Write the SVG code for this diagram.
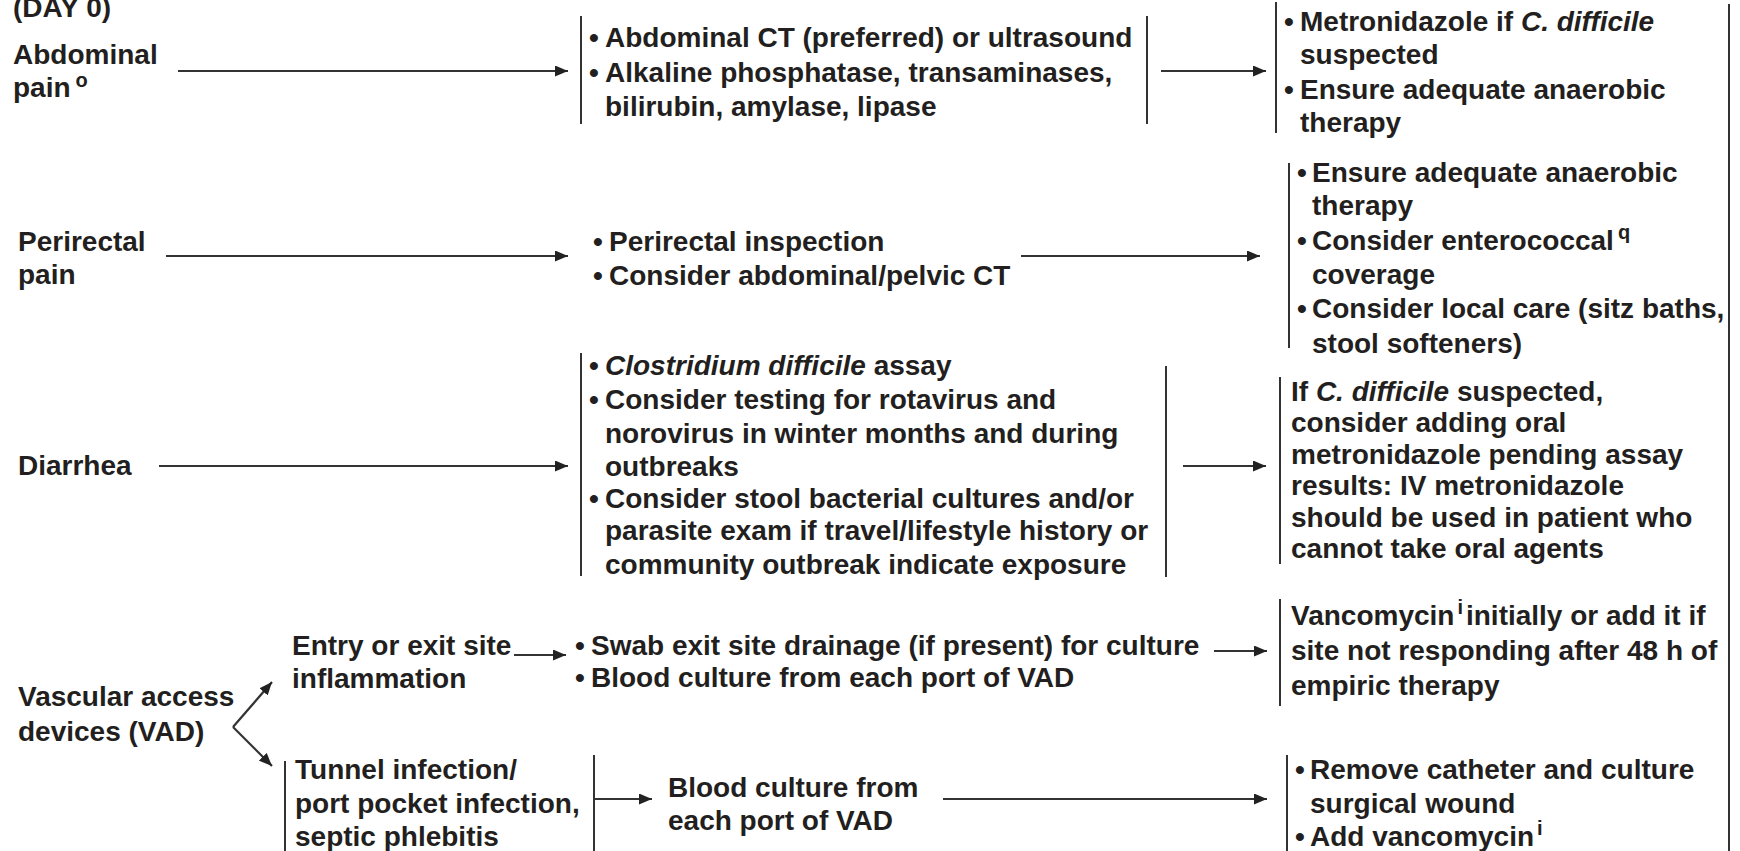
<svg xmlns="http://www.w3.org/2000/svg" width="1740" height="851" viewBox="0 0 1740 851">
<style>
text{font-family:"Liberation Sans",Arial,Helvetica,sans-serif;font-weight:bold;font-size:28px;fill:#231f20}
.i{font-style:italic}
.sup{font-size:20px}
.bar{stroke:#333;stroke-width:2;fill:none}
.con{stroke:#333;stroke-width:2.2;fill:none}
</style>
<defs>
<marker id="ah" viewBox="0 0 13 11" refX="13" refY="5.5" markerWidth="13" markerHeight="11" markerUnits="userSpaceOnUse" orient="auto">
<path d="M0,0 L13,5.5 L0,11 Z" fill="#222"/>
</marker>
</defs>
<rect width="1740" height="851" fill="#fff"/>

<g id="connectors">
<line class="con" x1="178" y1="71" x2="568" y2="71" marker-end="url(#ah)"/>
<line class="con" x1="1161" y1="71" x2="1266" y2="71" marker-end="url(#ah)"/>
<line class="con" x1="166" y1="256" x2="568" y2="256" marker-end="url(#ah)"/>
<line class="con" x1="1021" y1="256" x2="1260" y2="256" marker-end="url(#ah)"/>
<line class="con" x1="159" y1="466" x2="568" y2="466" marker-end="url(#ah)"/>
<line class="con" x1="1183" y1="466" x2="1266" y2="466" marker-end="url(#ah)"/>
<line class="con" x1="233" y1="727" x2="272" y2="682" marker-end="url(#ah)"/>
<line class="con" x1="233" y1="727" x2="272" y2="766" marker-end="url(#ah)"/>
<line class="con" x1="514" y1="655" x2="566" y2="655" marker-end="url(#ah)"/>
<line class="con" x1="1214" y1="651" x2="1267" y2="651" marker-end="url(#ah)"/>
<line class="con" x1="594" y1="799" x2="652" y2="799" marker-end="url(#ah)"/>
<line class="con" x1="943" y1="799" x2="1267" y2="799" marker-end="url(#ah)"/>
</g>

<g id="day0"><text x="13" y="17">(DAY 0)</text></g>

<g id="abdominal-pain">
<text x="13" y="64">Abdominal</text>
<text x="13" y="97">pain<tspan class="sup" dx="5" dy="-10">o</tspan></text>
</g>

<g id="abdominal-tests">
<line class="bar" x1="581" y1="16" x2="581" y2="124"/>
<line class="bar" x1="1147" y1="16" x2="1147" y2="124"/>
<text x="589" y="47">•</text><text x="605" y="47">Abdominal CT (preferred) or ultrasound</text>
<text x="589" y="82">•</text><text x="605" y="82">Alkaline phosphatase, transaminases,</text>
<text x="605" y="116">bilirubin, amylase, lipase</text>
</g>

<g id="abdominal-therapy">
<line class="bar" x1="1276" y1="2" x2="1276" y2="133"/>
<text x="1284" y="31">•</text><text x="1300" y="31">Metronidazole if <tspan class="i">C. difficile</tspan></text>
<text x="1300" y="64">suspected</text>
<text x="1284" y="99">•</text><text x="1300" y="99">Ensure adequate anaerobic</text>
<text x="1300" y="132">therapy</text>
</g>

<g id="perirectal-pain">
<text x="18" y="251">Perirectal</text>
<text x="18" y="284">pain</text>
</g>

<g id="perirectal-tests">
<text x="593" y="251">•</text><text x="609" y="251">Perirectal inspection</text>
<text x="593" y="285">•</text><text x="609" y="285">Consider abdominal/pelvic CT</text>
</g>

<g id="perirectal-therapy">
<line class="bar" x1="1289" y1="163" x2="1289" y2="348"/>
<text x="1297" y="182">•</text><text x="1312" y="182">Ensure adequate anaerobic</text>
<text x="1312" y="215">therapy</text>
<text x="1297" y="250">•</text><text x="1312" y="250">Consider enterococcal<tspan class="sup" dx="4" dy="-11">q</tspan></text>
<text x="1312" y="284">coverage</text>
<text x="1297" y="318">•</text><text x="1312" y="318">Consider local care (sitz baths,</text>
<text x="1312" y="353">stool softeners)</text>
</g>

<g id="diarrhea"><text x="18" y="475">Diarrhea</text></g>

<g id="diarrhea-tests">
<line class="bar" x1="581" y1="353" x2="581" y2="576"/>
<line class="bar" x1="1166" y1="366" x2="1166" y2="577"/>
<text x="589" y="375">•</text><text x="605" y="375"><tspan class="i">Clostridium difficile</tspan> assay</text>
<text x="589" y="409">•</text><text x="605" y="409">Consider testing for rotavirus and</text>
<text x="605" y="443">norovirus in winter months and during</text>
<text x="605" y="476">outbreaks</text>
<text x="589" y="508">•</text><text x="605" y="508">Consider stool bacterial cultures and/or</text>
<text x="605" y="540">parasite exam if travel/lifestyle history or</text>
<text x="605" y="574">community outbreak indicate exposure</text>
</g>

<g id="diarrhea-therapy">
<line class="bar" x1="1280" y1="377" x2="1280" y2="564"/>
<text x="1291" y="401">If <tspan class="i">C. difficile</tspan> suspected,</text>
<text x="1291" y="432">consider adding oral</text>
<text x="1291" y="464">metronidazole pending assay</text>
<text x="1291" y="495">results: IV metronidazole</text>
<text x="1291" y="527">should be used in patient who</text>
<text x="1291" y="558">cannot take oral agents</text>
</g>

<g id="vad">
<text x="18" y="706">Vascular access</text>
<text x="18" y="741">devices (VAD)</text>
</g>

<g id="entry-exit">
<text x="292" y="655">Entry or exit site</text>
<text x="292" y="688">inflammation</text>
</g>

<g id="entry-tests">
<text x="575" y="655">•</text><text x="591" y="655">Swab exit site drainage (if present) for culture</text>
<text x="575" y="687">•</text><text x="591" y="687">Blood culture from each port of VAD</text>
</g>

<g id="entry-therapy">
<line class="bar" x1="1280" y1="599" x2="1280" y2="706"/>
<text x="1291" y="625">Vancomycin<tspan class="sup" dx="3" dy="-11">i</tspan><tspan dx="3" dy="11">initially or add it if</tspan></text>
<text x="1291" y="660">site not responding after 48 h of</text>
<text x="1291" y="695">empiric therapy</text>
</g>

<g id="tunnel">
<line class="bar" x1="285" y1="761" x2="285" y2="851"/>
<text x="295" y="779">Tunnel infection/</text>
<text x="295" y="813">port pocket infection,</text>
<text x="295" y="846">septic phlebitis</text>
</g>

<g id="tunnel-tests">
<line class="bar" x1="594" y1="755" x2="594" y2="851"/>
<text x="668" y="797">Blood culture from</text>
<text x="668" y="830">each port of VAD</text>
</g>

<g id="tunnel-therapy">
<line class="bar" x1="1287" y1="755" x2="1287" y2="851"/>
<text x="1295" y="779">•</text><text x="1310" y="779">Remove catheter and culture</text>
<text x="1310" y="813">surgical wound</text>
<text x="1295" y="846">•</text><text x="1310" y="846">Add vancomycin<tspan class="sup" dx="3" dy="-11">i</tspan></text>
</g>

<g id="right-border"><line class="bar" x1="1729" y1="4" x2="1729" y2="851"/></g>
</svg>
